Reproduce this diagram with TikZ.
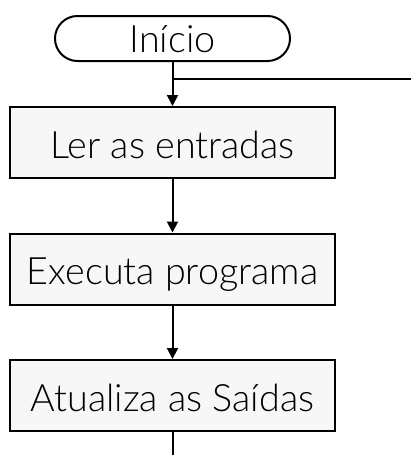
\documentclass[tikz,border=0pt]{standalone}
\usepackage{fontspec}
\setmainfont{Lato}[UprightFont=* Light]
\usetikzlibrary{arrows.meta}
\definecolor{boxgray}{HTML}{F7F7F7}

\begin{document}
\begin{tikzpicture}[x=1pt,y=-1pt]
   \tikzset{EdgeStyle/.style={-{Triangle[length=11pt,width=11pt]},line width=2pt}}
   \tikzset{LineStyle/.style={line width=2pt}}
   \tikzset{BoxStyle/.style={draw,line width=2pt,fill=boxgray,minimum width=325pt,minimum height=71pt,
      inner sep=0pt,text height=31pt,text depth=0pt,font=\fontsize{37.7}{40}\selectfont}}
   \tikzset{TermStyle/.style={draw,line width=2pt,fill=white,minimum width=235pt,minimum height=45pt,
      rounded corners=22.5pt,inner sep=0pt,text height=28pt,text depth=0pt,font=\fontsize{37.7}{40}\selectfont}}
   \useasboundingbox (0,0) rectangle (411,455);
   \node[TermStyle] (inicio) at (172.5,38.5) {Início};
   \node[BoxStyle] (ler) at (172.5,142.5) {Ler as entradas};
   \node[BoxStyle] (exec) at (172.5,269) {Executa programa};
   \node[BoxStyle] (atual) at (172.5,395.5) {Atualiza as Saídas};
   \coordinate (junta) at (172.5,79);
   \coordinate (volta) at (411,79);
   \coordinate (fim) at (172.5,455);
   \draw[EdgeStyle] (inicio) -- (ler);
   \draw[LineStyle] (junta) -- (volta);
   \draw[EdgeStyle] (ler) -- (exec);
   \draw[EdgeStyle] (exec) -- (atual);
   \draw[LineStyle] (atual) -- (fim);
\end{tikzpicture}
\end{document}
